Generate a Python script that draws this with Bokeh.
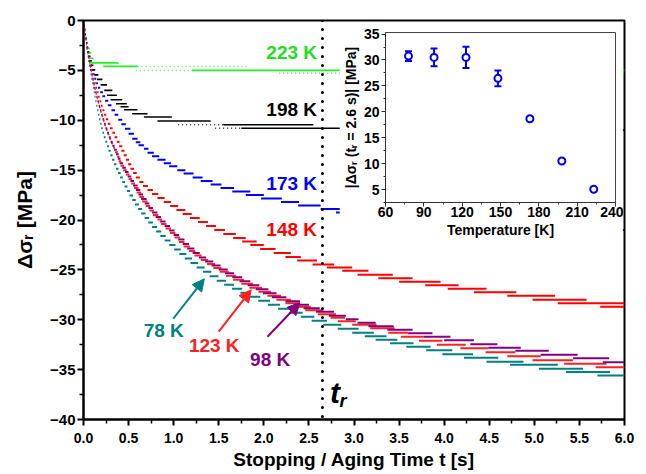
from bokeh.plotting import figure
from bokeh.models import (ColumnDataSource, Range1d, FixedTicker, NumeralTickFormatter,
                          Span, Arrow, NormalHead, Label, Whisker, TeeHead)
from bokeh.core.properties import value
from bokeh.embed import file_html
from bokeh.resources import INLINE

FONT = "Liberation Sans"

# ---------------- main plot data: relaxation steps (start time, end time, level) ----------------
# 223 K (dense points)
k223_t0 = [0.003, 0.01, 0.017, 0.025, 0.033, 0.033, 0.044, 0.06, 0.07, 0.22, 1.2]
k223_t1 = [0.012, 0.02, 0.028, 0.037, 0.047, 0.07, 0.085, 0.11, 0.39, 0.6, 6.0]
k223_y = [-0.45, -0.9, -1.35, -1.8, -2.25, -2.8, -3.25, -3.8, -4.25, -4.6, -5.0]
# 223 K (sparse points)
k223s_t0 = [0.6, 0.58, 2.17]
k223s_t1 = [1.82, 1.2, 6.0]
k223s_y = [-4.6, -5.0, -5.3]

# 198 K (dense points)
k198_t0 = [0.003, 0.01, 0.017, 0.024, 0.032, 0.04, 0.05, 0.06, 0.072, 0.085, 0.1, 0.12, 0.15,
           0.19, 0.23, 0.26, 0.3, 0.36, 0.41, 0.45, 0.54, 0.67, 0.82, 1.55, 1.75, 3.5]
k198_t1 = [0.012, 0.02, 0.027, 0.035, 0.044, 0.054, 0.065, 0.078, 0.092, 0.11, 0.13, 0.165, 0.21,
           0.26, 0.32, 0.37, 0.43, 0.48, 0.5, 0.6, 0.71, 0.98, 1.41, 2.55, 4.0, 6.0]
k198_y = [-0.45, -0.9, -1.35, -1.8, -2.25, -2.7, -3.15, -3.6, -4.05, -4.5, -4.95, -5.45, -5.9,
          -6.45, -7.0, -7.5, -7.95, -8.35, -8.65, -8.95, -9.35, -9.68, -10.08, -10.45, -10.8, -11.0]
# 198 K (sparse points)
k198s_t0 = [1.05, 1.46]
k198s_t1 = [1.55, 1.75]
k198s_y = [-10.45, -10.8]

# 173 K
k173_t0 = [0.003, 0.01, 0.016, 0.023, 0.03, 0.037, 0.045, 0.054, 0.064,
           0.08, 0.093, 0.107, 0.122, 0.14, 0.16, 0.185, 0.21, 0.24, 0.27, 0.31, 0.345, 0.385,
           0.42, 0.46, 0.5, 0.54, 0.58, 0.61, 0.67, 0.71, 0.76, 0.82, 0.89, 0.95, 1.04, 1.11,
           1.21, 1.3, 1.41, 1.52, 1.65, 1.8, 1.97, 2.19, 2.38, 2.63, 2.8, 3.2, 3.7, 4.3, 4.9, 5.5]
k173_t1 = [0.012, 0.019, 0.026, 0.033, 0.04, 0.048, 0.057, 0.067, 0.078,
           0.095, 0.11, 0.125, 0.142, 0.16, 0.185, 0.215, 0.24, 0.275, 0.31, 0.35, 0.385, 0.43,
           0.47, 0.52, 0.56, 0.6, 0.63, 0.67, 0.72, 0.78, 0.84, 0.91, 0.97, 1.04, 1.13, 1.22,
           1.32, 1.43, 1.53, 1.67, 1.85, 2.0, 2.2, 2.39, 2.63, 2.85, 3.3, 3.8, 4.4, 5.0, 5.6, 6.0]
k173_y = [-0.45, -0.9, -1.35, -1.8, -2.25, -2.7, -3.15, -3.6, -4.05,
          -4.5, -4.95, -5.4, -5.85, -6.3, -6.75, -7.2, -7.6, -8.05, -8.5, -9.0, -9.45, -9.95,
          -10.4, -10.85, -11.35, -11.85, -12.2, -12.5, -12.85, -13.25, -13.6, -13.95, -14.3, -14.6, -15.0, -15.35,
          -15.75, -16.1, -16.45, -16.8, -17.15, -17.5, -17.85, -18.2, -18.55, -18.9, -19.25, -19.6, -19.95, -20.3, -20.65, -21.0]

# 148 K
k148_t0 = [0.004, 0.011, 0.017, 0.024, 0.031, 0.038,
           0.045, 0.055, 0.065, 0.075, 0.085, 0.096, 0.108, 0.12, 0.133, 0.147, 0.162, 0.177, 0.193, 0.21,
           0.228, 0.248, 0.27, 0.294, 0.32, 0.345, 0.37, 0.395, 0.42, 0.445, 0.47, 0.495, 0.52, 0.55, 0.58, 0.62,
           0.66, 0.71, 0.76, 0.82, 0.89, 0.96, 1.03, 1.1, 1.18, 1.27, 1.36, 1.45, 1.55, 1.66, 1.76, 1.85, 1.96,
           2.11, 2.24, 2.37, 2.54, 2.7, 2.87, 3.04, 3.27, 3.5, 3.79, 4.04, 4.33, 4.7, 4.98, 5.26, 5.73]
k148_t1 = [0.013, 0.02, 0.027, 0.034, 0.041, 0.049,
           0.055, 0.066, 0.076, 0.087, 0.098, 0.11, 0.123, 0.136, 0.15, 0.165, 0.18, 0.196, 0.213, 0.232,
           0.252, 0.274, 0.298, 0.323, 0.35, 0.375, 0.4, 0.43, 0.455, 0.48, 0.505, 0.53, 0.56, 0.59, 0.625, 0.665,
           0.715, 0.77, 0.83, 0.9, 0.97, 1.05, 1.13, 1.2, 1.29, 1.38, 1.47, 1.57, 1.69, 1.8, 1.92, 2.0, 2.13,
           2.3, 2.41, 2.59, 2.78, 2.98, 3.16, 3.43, 3.65, 3.96, 4.16, 4.47, 4.8, 5.23, 5.58, 6.0, 6.0]
k148_y = [-0.45, -0.9, -1.35, -1.8, -2.25, -2.7,
          -3.15, -3.6, -4.05, -4.5, -4.95, -5.4, -5.85, -6.3, -6.75, -7.2, -7.65, -8.1, -8.55, -9.0,
          -9.45, -9.9, -10.35, -10.8, -11.25, -11.7, -12.15, -12.6, -13.05, -13.5, -13.95, -14.4, -14.85, -15.3, -15.75, -16.2,
          -16.6, -17.0, -17.4, -17.8, -18.2, -18.6, -19.0, -19.4, -19.8, -20.2, -20.6, -21.0, -21.4, -21.8, -22.15, -22.5, -22.9,
          -23.3, -23.7, -24.05, -24.45, -24.75, -25.1, -25.5, -25.85, -26.2, -26.55, -26.9, -27.25, -27.6, -28.0, -28.35, -28.7]

# 123 K
k123_t0 = [0.006, 0.012, 0.018, 0.024, 0.03, 0.037, 0.044, 0.052, 0.061, 0.07, 0.08, 0.09, 0.1, 0.111,
           0.122, 0.134, 0.146, 0.159, 0.172, 0.186, 0.2, 0.215, 0.231, 0.248, 0.266, 0.285, 0.305,
           0.33, 0.35, 0.37, 0.39, 0.41, 0.44, 0.47, 0.5, 0.53, 0.56, 0.59, 0.62, 0.65, 0.69, 0.73, 0.77,
           0.82, 0.86, 0.91, 0.96, 1.01, 1.06, 1.11, 1.17, 1.23, 1.3, 1.37, 1.44, 1.51, 1.58, 1.66, 1.75,
           1.84, 1.94, 2.04, 2.14, 2.24, 2.35, 2.46, 2.6, 2.74, 2.82, 2.98, 3.18, 3.38, 3.52, 3.72, 3.92,
           4.18, 4.46, 4.7, 4.98, 5.33, 5.68]
k123_t1 = [0.014, 0.02, 0.027, 0.033, 0.039, 0.046, 0.054, 0.063, 0.072, 0.082, 0.092, 0.102, 0.113, 0.124,
           0.136, 0.148, 0.161, 0.174, 0.188, 0.202, 0.217, 0.233, 0.25, 0.268, 0.287, 0.307, 0.328,
           0.35, 0.38, 0.4, 0.42, 0.45, 0.48, 0.51, 0.54, 0.57, 0.61, 0.64, 0.67, 0.71, 0.74, 0.78, 0.83,
           0.87, 0.92, 0.97, 1.02, 1.07, 1.12, 1.18, 1.24, 1.31, 1.38, 1.46, 1.53, 1.61, 1.69, 1.78, 1.88,
           1.98, 2.08, 2.19, 2.3, 2.4, 2.52, 2.66, 2.8, 2.9, 3.02, 3.25, 3.45, 3.6, 3.77, 3.98, 4.24,
           4.49, 4.79, 5.07, 5.43, 5.8, 6.0]
k123_y = [-0.6, -1.05, -1.5, -1.95, -2.4, -2.85, -3.3, -3.75, -4.2, -4.65, -5.1, -5.55, -6.0, -6.45,
          -6.9, -7.35, -7.8, -8.25, -8.7, -9.15, -9.6, -10.05, -10.5, -10.95, -11.4, -11.85, -12.3,
          -12.75, -13.2, -13.65, -14.1, -14.55, -15.0, -15.45, -15.9, -16.35, -16.8, -17.25, -17.7, -18.15, -18.6, -19.05, -19.5,
          -19.95, -20.4, -20.85, -21.3, -21.75, -22.2, -22.65, -23.1, -23.55, -24.0, -24.4, -24.8, -25.2, -25.6, -26.0, -26.4,
          -26.8, -27.2, -27.6, -28.0, -28.35, -28.7, -29.05, -29.45, -29.8, -30.15, -30.5, -30.85, -31.3, -31.7, -32.1, -32.5,
          -32.85, -33.25, -33.65, -34.05, -34.4, -34.75]

# 98 K
k98_t0 = [0.003, 0.01, 0.016, 0.022, 0.028, 0.035, 0.042, 0.05, 0.058, 0.067, 0.076, 0.086, 0.096, 0.107,
          0.118, 0.13, 0.142, 0.155, 0.168, 0.182, 0.196, 0.211, 0.227, 0.244, 0.262, 0.281, 0.3, 0.32,
          0.34, 0.36, 0.38, 0.40, 0.43, 0.46, 0.49, 0.52, 0.55, 0.58, 0.61, 0.64, 0.68, 0.72, 0.76, 0.8,
          0.85, 0.9, 0.95, 1.0, 1.05, 1.1, 1.15, 1.21, 1.28, 1.35, 1.42, 1.5, 1.57, 1.65, 1.73, 1.82,
          1.91, 1.99, 2.09, 2.24, 2.33, 2.44, 2.58, 2.72, 2.91, 3.04, 3.16, 3.37, 3.6, 3.77, 4.0, 4.29,
          4.49, 4.79, 5.07, 5.43, 5.76]
k98_t1 = [0.012, 0.019, 0.025, 0.031, 0.037, 0.044, 0.052, 0.06, 0.069, 0.078, 0.088, 0.098, 0.109, 0.12,
          0.132, 0.144, 0.157, 0.17, 0.184, 0.198, 0.213, 0.229, 0.246, 0.264, 0.283, 0.303, 0.323, 0.345,
          0.37, 0.39, 0.41, 0.44, 0.47, 0.5, 0.53, 0.56, 0.6, 0.63, 0.66, 0.7, 0.73, 0.77, 0.82, 0.86,
          0.91, 0.96, 1.01, 1.06, 1.12, 1.17, 1.23, 1.29, 1.36, 1.44, 1.52, 1.6, 1.67, 1.76, 1.85, 1.95,
          2.05, 2.14, 2.25, 2.4, 2.5, 2.62, 2.78, 2.91, 3.05, 3.24, 3.44, 3.65, 3.87, 4.07, 4.33, 4.59,
          4.85, 5.16, 5.48, 5.83, 6.0]
k98_y = [-0.45, -0.9, -1.35, -1.8, -2.25, -2.7, -3.15, -3.6, -4.05, -4.5, -4.95, -5.4, -5.85, -6.3,
         -6.75, -7.2, -7.65, -8.1, -8.55, -9.0, -9.45, -9.9, -10.35, -10.8, -11.25, -11.7, -12.15, -12.55,
         -12.95, -13.4, -13.85, -14.3, -14.75, -15.2, -15.65, -16.1, -16.55, -17.0, -17.45, -17.9, -18.35, -18.8, -19.25, -19.7,
         -20.15, -20.6, -21.05, -21.5, -21.95, -22.4, -22.85, -23.3, -23.75, -24.15, -24.55, -24.95, -25.35, -25.75, -26.15, -26.55,
         -26.95, -27.35, -27.75, -28.15, -28.5, -28.85, -29.2, -29.6, -29.95, -30.3, -30.65, -31.0, -31.35, -31.7, -32.05, -32.45,
         -32.8, -33.1, -33.5, -33.85, -34.25]

# 78 K
k78_t0 = [0.003, 0.009, 0.015, 0.021, 0.026, 0.032, 0.039, 0.046, 0.054, 0.062, 0.070, 0.078, 0.087, 0.096,
          0.105, 0.114, 0.123, 0.132, 0.142, 0.152, 0.162, 0.173, 0.185, 0.197, 0.21, 0.225, 0.242, 0.26,
          0.278, 0.297, 0.317, 0.338, 0.36, 0.383, 0.406, 0.43, 0.455, 0.482, 0.51, 0.54, 0.57, 0.605,
          0.64, 0.678, 0.718, 0.76, 0.805, 0.852, 0.9, 0.952, 1.006, 1.063, 1.123, 1.187, 1.254, 1.325,
          1.4, 1.478, 1.56, 1.648, 1.74, 1.836, 1.938, 2.045, 2.158, 2.278, 2.41, 2.53, 2.66, 2.82,
          2.98, 3.12, 3.24, 3.4, 3.58, 3.8, 3.98, 4.22, 4.47, 4.73, 5.05, 5.35, 5.7]
k78_t1 = [0.011, 0.017, 0.023, 0.029, 0.034, 0.040, 0.047, 0.055, 0.063, 0.071, 0.080, 0.088, 0.097, 0.106,
          0.115, 0.125, 0.134, 0.144, 0.154, 0.165, 0.176, 0.187, 0.2, 0.213, 0.228, 0.245, 0.263, 0.282,
          0.302, 0.322, 0.343, 0.365, 0.388, 0.412, 0.436, 0.461, 0.488, 0.517, 0.548, 0.58, 0.614, 0.65,
          0.688, 0.728, 0.77, 0.815, 0.862, 0.912, 0.965, 1.02, 1.078, 1.14, 1.204, 1.272, 1.343, 1.418,
          1.497, 1.58, 1.668, 1.76, 1.858, 1.96, 2.068, 2.18, 2.3, 2.43, 2.56, 2.7, 2.86, 3.05,
          3.22, 3.36, 3.48, 3.66, 3.85, 4.09, 4.32, 4.6, 4.88, 5.26, 5.54, 5.84, 6.0]
k78_y = [-0.45, -0.9, -1.35, -1.8, -2.25, -2.7, -3.15, -3.6, -4.05, -4.5, -4.95, -5.4, -5.85, -6.3,
         -6.75, -7.2, -7.65, -8.1, -8.55, -9.0, -9.45, -9.9, -10.35, -10.8, -11.25, -11.7, -12.15, -12.6,
         -13.05, -13.5, -13.95, -14.4, -14.85, -15.3, -15.75, -16.2, -16.65, -17.1, -17.55, -18.0, -18.45, -18.9,
         -19.35, -19.8, -20.25, -20.7, -21.15, -21.6, -22.05, -22.5, -22.95, -23.4, -23.85, -24.3, -24.75, -25.2,
         -25.65, -26.1, -26.5, -26.9, -27.3, -27.7, -28.1, -28.5, -28.9, -29.3, -29.7, -30.1, -30.5, -30.9,
         -31.3, -31.65, -32.0, -32.35, -32.7, -33.05, -33.45, -33.8, -34.2, -34.5, -34.9, -35.25, -35.6]

# ticks
x_ticks = [0.0, 0.5, 1.0, 1.5, 2.0, 2.5, 3.0, 3.5, 4.0, 4.5, 5.0, 5.5, 6.0]
y_ticks = [-40, -35, -30, -25, -20, -15, -10, -5, 0]

# annotations
t_r = 2.65
hi_text = ["223 K", "198 K", "173 K", "148 K"]
hi_x = [2.59, 2.59, 2.59, 2.59]
hi_y = [-3.2, -8.95, -16.3, -21.0]
hi_col = ["#22dd22", "#000000", "#0000ff", "#ff0000"]
lo_text = ["78 K", "123 K", "98 K"]
lo_x = [0.89, 1.45, 2.07]
lo_y = [-31.05, -32.6, -34.0]
lo_col = ["#008080", "#ff2020", "#800080"]
arr_x0 = [0.995, 1.50, 2.04]
arr_y0 = [-29.9, -31.2, -31.7]
arr_x1 = [1.34, 1.86, 2.40]
arr_y1 = [-25.9, -27.0, -28.3]

# ---------------- inset data ----------------
temps = [78, 98, 123, 148, 173, 198, 223]
dsig = [30.75, 30.5, 30.5, 26.45, 18.65, 10.5, 5.05]
dsig_err = [0.95, 1.7, 2.05, 1.5, 0.3, 0.3, 0.15]
ins_x_ticks = [60, 90, 120, 150, 180, 210, 240]
ins_y_ticks = [5, 10, 15, 20, 25, 30, 35]

# ---------------- main figure ----------------
p = figure(frame_width=541, frame_height=399, x_range=Range1d(0, 6), y_range=Range1d(-40, 0),
           output_backend="svg", toolbar_location=None,
           min_border_left=83, min_border_right=14, min_border_top=20, min_border_bottom=54,
           background_fill_color="white", border_fill_color="white")
p.grid.visible = False
p.outline_line_color = "black"
p.outline_line_width = 2

dense = [
    (k223_t0, k223_t1, k223_y, "#22ee22", 1.6),
    (k198_t0, k198_t1, k198_y, "#000000", 1.6),
    (k173_t0, k173_t1, k173_y, "#0000ff", 2),
    (k148_t0, k148_t1, k148_y, "#ff0000", 2),
    (k78_t0, k78_t1, k78_y, "#008080", 2),
    (k123_t0, k123_t1, k123_y, "#ff2020", 2),
    (k98_t0, k98_t1, k98_y, "#800080", 2),
]
sparse = [
    (k223s_t0, k223s_t1, k223s_y, "#22ee22"),
    (k198s_t0, k198s_t1, k198s_y, "#000000"),
]
for t0, t1, yy, col in sparse:
    src = ColumnDataSource(dict(t0=t0, t1=t1, y=yy))
    p.segment(x0="t0", y0="y", x1="t1", y1="y", source=src, line_color=col, line_width=1.5,
              line_dash="1 3", line_alpha=0.8)
for t0, t1, yy, col, lw in dense:
    src = ColumnDataSource(dict(t0=t0, t1=t1, y=yy))
    p.segment(x0="t0", y0="y", x1="t1", y1="y", source=src, line_color=col, line_width=lw)

p.add_layout(Span(location=t_r, dimension="height", line_color="black", line_width=3,
                  line_dash="0 9", line_cap="round"))

hs = ColumnDataSource(dict(x=hi_x, y=hi_y, text=hi_text, col=hi_col))
p.text(x="x", y="y", text="text", text_color="col", source=hs, text_align="right",
       text_baseline="middle", text_font=value(FONT), text_font_style="bold", text_font_size="19px")
ls = ColumnDataSource(dict(x=lo_x, y=lo_y, text=lo_text, col=lo_col))
p.text(x="x", y="y", text="text", text_color="col", source=ls, text_align="center",
       text_baseline="middle", text_font=value(FONT), text_font_style="bold", text_font_size="19px")

for i in range(3):
    c = lo_col[i]
    p.add_layout(Arrow(end=NormalHead(size=12, fill_color=c, line_color=c, line_width=1),
                       x_start=arr_x0[i], y_start=arr_y0[i], x_end=arr_x1[i], y_end=arr_y1[i],
                       line_color=c, line_width=2))

p.add_layout(Label(x=2.735, y=-37.3, text="t", text_font=FONT, text_font_style="bold italic",
                   text_font_size="30px", text_baseline="alphabetic", text_color="black"))
p.add_layout(Label(x=2.84, y=-38.1, text="r", text_font=FONT, text_font_style="bold italic",
                   text_font_size="18px", text_baseline="alphabetic", text_color="black"))

p.xaxis.ticker = FixedTicker(ticks=x_ticks, minor_ticks=[v + 0.25 for v in x_ticks[:-1]])
p.yaxis.ticker = FixedTicker(ticks=y_ticks, minor_ticks=[v + 2.5 for v in y_ticks[:-1]])
p.xaxis.formatter = NumeralTickFormatter(format="0.0")
p.xaxis.axis_label = "Stopping / Aging Time t [s]"
p.yaxis.axis_label = "Δσᵣ [MPa]"
for ax in (p.xaxis[0], p.yaxis[0]):
    ax.axis_line_width = 2
    ax.axis_line_color = "black"
    ax.major_tick_line_width = 2
    ax.minor_tick_line_width = 1.5
    ax.major_tick_out = 6
    ax.major_tick_in = 0
    ax.minor_tick_out = 4
    ax.minor_tick_in = 0
    ax.major_label_text_font = FONT
    ax.major_label_text_font_style = "bold"
    ax.major_label_text_font_size = "14px"
    ax.major_label_text_color = "black"
    ax.axis_label_text_font = FONT
    ax.axis_label_text_font_style = "bold"
    ax.axis_label_text_font_size = "19px"
    ax.axis_label_text_color = "black"
p.yaxis.major_label_text_font_size = "15px"
p.yaxis.axis_label_text_font_size = "21px"
p.xaxis.major_label_standoff = 7
p.xaxis.axis_label_standoff = 3
p.yaxis.major_label_standoff = 2
p.yaxis.axis_label_standoff = 11

# ---------------- inset ----------------
ins = figure(frame_width=230, frame_height=170, x_range=Range1d(60, 240), y_range=Range1d(2.5, 35.3),
             output_backend="svg", toolbar_location=None,
             min_border_left=44, min_border_right=8, min_border_top=10, min_border_bottom=36,
             background_fill_color="white", border_fill_color="white")
ins.styles = {"position": "absolute", "left": "339px", "top": "22px", "z-index": "10"}
ins.grid.visible = False
ins.outline_line_color = "#444444"
ins.outline_line_width = 1

isrc = ColumnDataSource(dict(T=temps, d=dsig,
                             lo=[a - b for a, b in zip(dsig, dsig_err)],
                             hi=[a + b for a, b in zip(dsig, dsig_err)]))
ins.add_layout(Whisker(source=isrc, base="T", lower="lo", upper="hi", line_color="#0000ee", line_width=2,
                       upper_head=TeeHead(size=7, line_color="#0000ee", line_width=2),
                       lower_head=TeeHead(size=7, line_color="#0000ee", line_width=2)))
ins.scatter(x="T", y="d", source=isrc, marker="circle", size=7, fill_color="white",
            line_color="#0000ee", line_width=2)

ins.xaxis.ticker = FixedTicker(ticks=ins_x_ticks, minor_ticks=[v + 15 for v in ins_x_ticks[:-1]])
ins.yaxis.ticker = FixedTicker(ticks=ins_y_ticks, minor_ticks=[2.5] + [v + 2.5 for v in ins_y_ticks[:-1]])
ins.xaxis.axis_label = "Temperature [K]"
ins.yaxis.axis_label = "|Δσᵣ (tᵣ = 2.6 s)| [MPa]"
for ax in (ins.xaxis[0], ins.yaxis[0]):
    ax.axis_line_width = 1
    ax.axis_line_color = "#333333"
    ax.major_tick_line_color = "#333333"
    ax.minor_tick_line_color = "#333333"
    ax.major_tick_out = 4
    ax.major_tick_in = 0
    ax.minor_tick_out = 2
    ax.minor_tick_in = 0
    ax.major_label_text_font = FONT
    ax.major_label_text_font_style = "bold"
    ax.major_label_text_font_size = "14px"
    ax.major_label_text_color = "black"
    ax.axis_label_text_font = FONT
    ax.axis_label_text_font_style = "bold"
    ax.axis_label_text_font_size = "14px"
    ax.axis_label_text_color = "black"
ins.xaxis.major_label_standoff = 0
ins.xaxis.axis_label_standoff = 2
ins.yaxis.major_label_standoff = 2
ins.yaxis.axis_label_standoff = 2

open("out.html", "w").write(file_html([p, ins], INLINE))
